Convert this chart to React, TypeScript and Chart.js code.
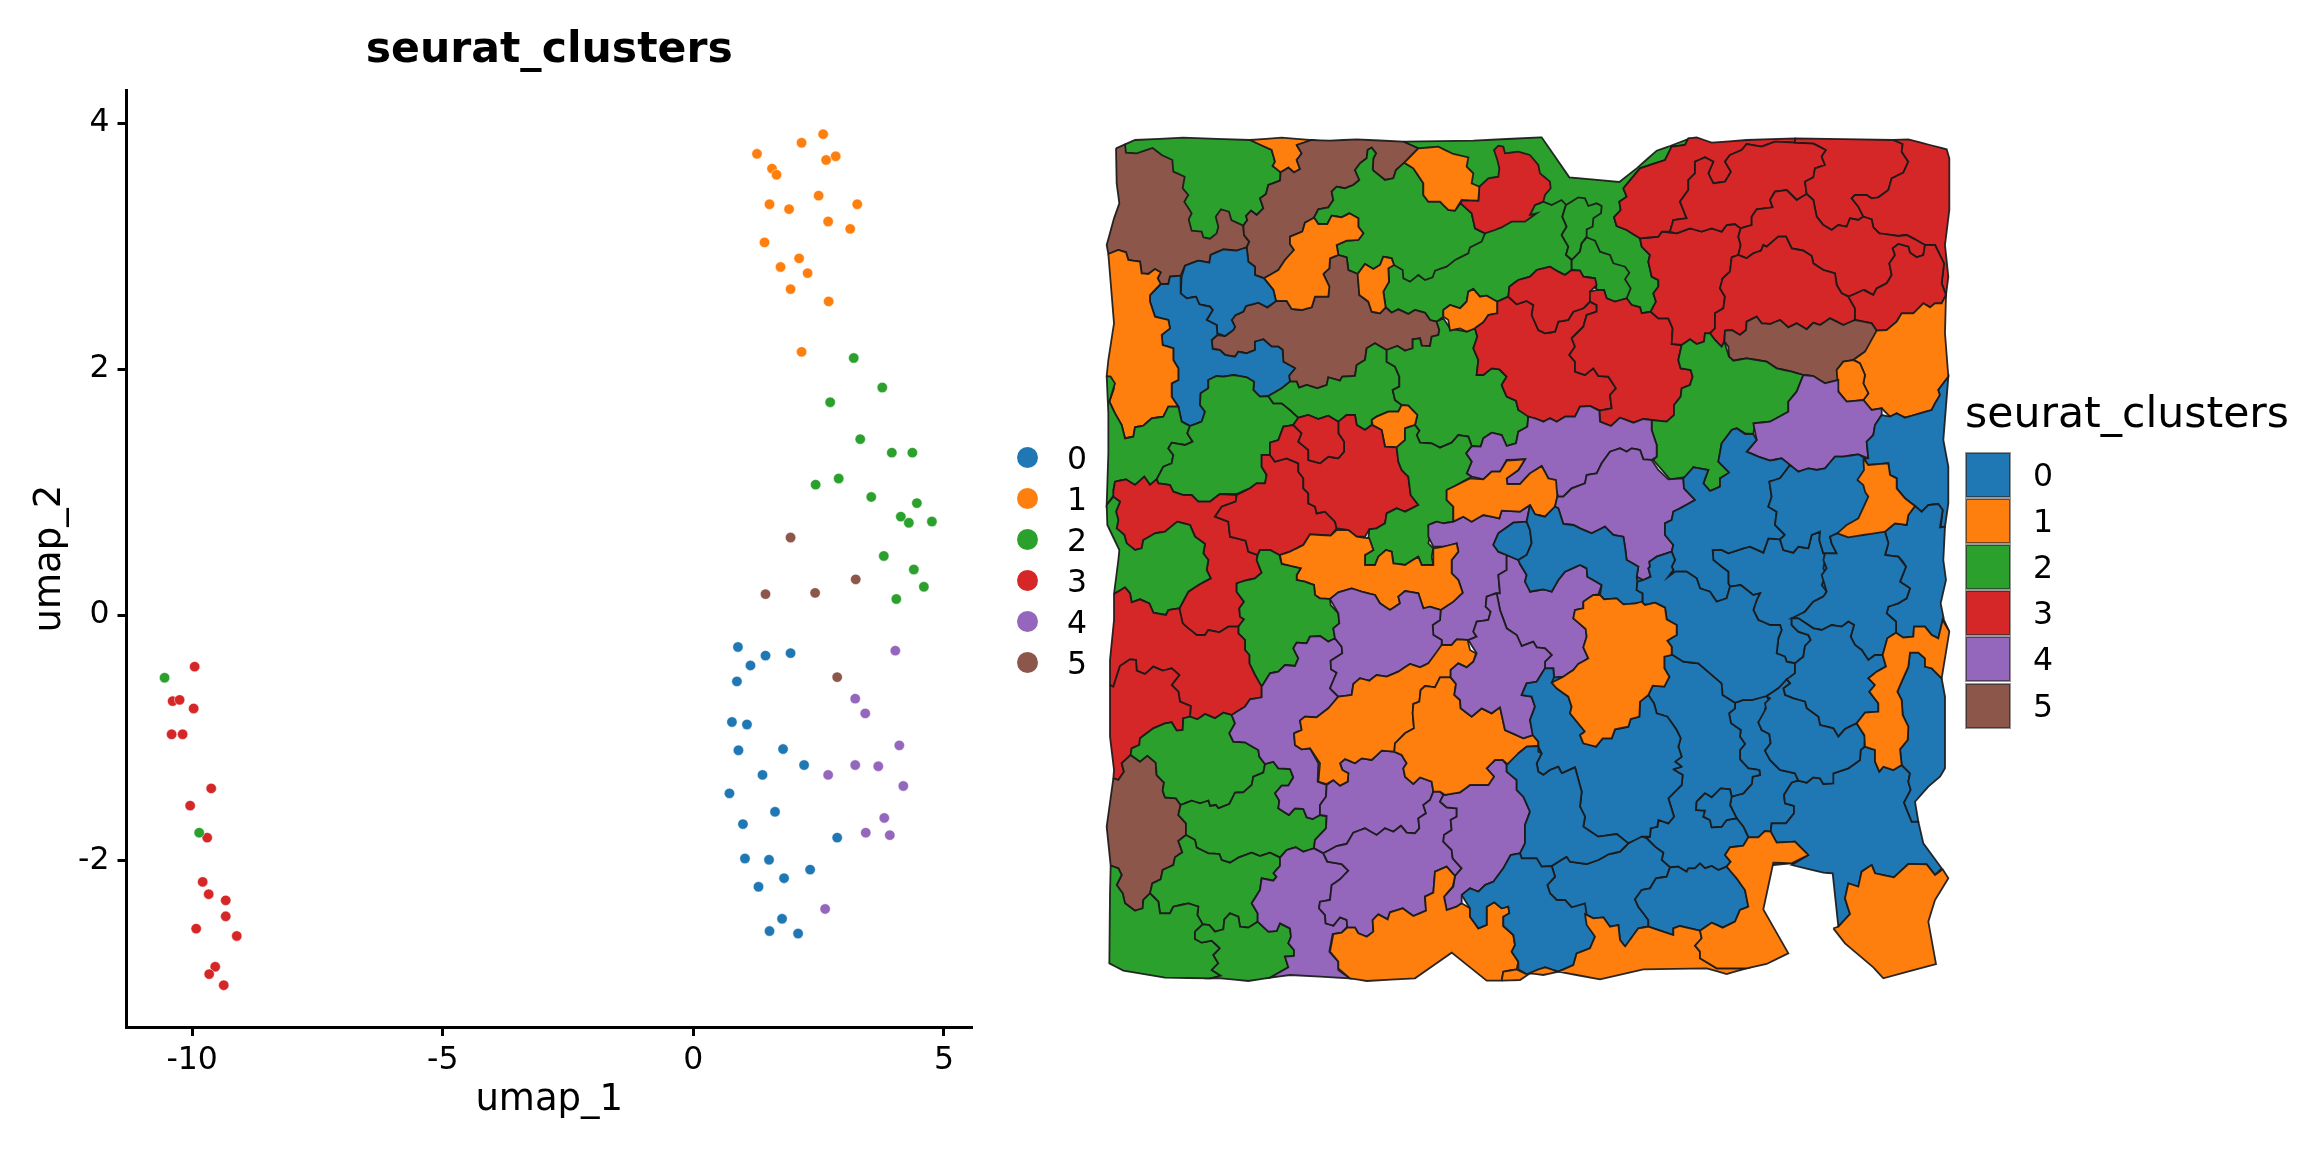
import React, { useEffect, useRef } from "react";
import { Chart, registerables } from "chart.js";
Chart.register(...registerables);

const FONT = "'DejaVu Sans'";
const clusterNames = ["0", "1", "2", "3", "4", "5"];
const clusterColors = ["#1f77b4", "#ff7f0e", "#2ca02c", "#d62728", "#9467bd", "#8c564b"];
const xTicks = [-10, -5, 0, 5];
const yTicks = [-2, 0, 2, 4];

const umap0 = [[0.89,-0.26],[1.44,-0.33],[1.94,-0.31],[1.14,-0.41],[0.87,-0.54],[0.77,-0.87],[1.07,-0.89],[0.9,-1.1],[1.79,-1.09],[2.21,-1.22],[1.38,-1.3],[0.72,-1.45],[1.63,-1.6],[0.99,-1.7],[2.87,-1.81],[1.03,-1.98],[1.51,-1.99],[2.33,-2.07],[1.81,-2.14],[1.3,-2.21],[1.77,-2.47],[1.52,-2.57],[2.09,-2.59]];
const umap1 = [[2.59,3.91],[2.16,3.84],[1.27,3.75],[2.84,3.73],[2.65,3.7],[1.57,3.63],[1.66,3.58],[2.5,3.41],[1.52,3.34],[3.27,3.34],[1.91,3.3],[2.69,3.2],[3.13,3.14],[1.42,3.03],[2.11,2.9],[1.74,2.83],[2.28,2.78],[1.94,2.65],[2.7,2.55],[2.16,2.14]];
const umap2 = [[3.2,2.09],[3.77,1.85],[2.73,1.73],[3.33,1.43],[3.96,1.32],[4.37,1.32],[2.9,1.11],[2.44,1.06],[3.55,0.96],[4.46,0.91],[4.14,0.8],[4.3,0.75],[4.76,0.76],[3.8,0.48],[4.4,0.37],[4.6,0.23],[4.05,0.13],[-10.55,-0.51],[-9.86,-1.77]];
const umap3 = [[-9.95,-0.42],[-10.39,-0.7],[-10.25,-0.69],[-9.97,-0.76],[-10.41,-0.97],[-10.19,-0.97],[-9.62,-1.41],[-10.04,-1.55],[-9.7,-1.81],[-9.79,-2.17],[-9.67,-2.27],[-9.33,-2.32],[-9.33,-2.45],[-9.92,-2.55],[-9.11,-2.61],[-9.54,-2.86],[-9.66,-2.92],[-9.37,-3.01]];
const umap4 = [[4.03,-0.29],[3.23,-0.68],[3.43,-0.8],[4.11,-1.06],[3.23,-1.22],[3.69,-1.23],[2.69,-1.3],[4.19,-1.39],[3.81,-1.65],[3.44,-1.77],[3.92,-1.79],[2.63,-2.39]];
const umap5 = [[1.94,0.63],[3.24,0.29],[2.43,0.18],[1.44,0.17],[2.87,-0.505]];
const umapSeries = [umap0, umap1, umap2, umap3, umap4, umap5];

// Spatial map regions: flat x,y lists in map units.
const BlueBase = [1300,1200,2300,1050,2500,1300,2500,1900,2400,2200,1400,2300,1300,1900];
const G3 = [940,65,1150,62,1350,52,1355,52,1438,172,1588,186,1640,145,1700,92,1740,78,1795,57,1785,75,1745,80,1725,120,1650,145,1600,205,1610,230,1588,245,1592,270,1572,292,1580,318,1610,330,1650,355,1655,380,1680,405,1675,425,1685,470,1705,480,1705,500,1690,520,1698,545,1682,575,1655,580,1650,562,1625,555,1610,535,1575,545,1550,535,1542,510,1500,500,1300,450,1100,300,985,85];
const G2 = [1335,255,1360,245,1385,255,1415,240,1428,255,1417,290,1430,320,1415,345,1435,380,1428,405,1445,420,1445,450,1425,465,1405,455,1380,440,1340,450,1320,470,1285,480,1258,500,1255,530,1222,545,1190,527,1170,530,1150,507,1135,515,1130,545,1110,565,1080,555,1060,570,1060,590,1040,605,1020,600,1005,578,975,570,955,582,925,568,905,578,887,562,880,515,897,485,895,445,1100,300,1250,280];
const Gmid = [108,255,145,232,165,235,175,258,200,250,215,258,213,280,190,295,188,320,170,328,170,350,155,370,150,395,127,420,108,405,115,380,95,345,110,320,97,290];
const Glow = [170,352,195,362,210,395,240,405,250,430,285,440,298,458,285,478,302,505,290,535,255,545,230,535,222,510,200,510,195,475,160,470,150,452,125,450,125,420,150,395,155,370];
const GreenTop = [105,73,135,60,280,53,480,60,545,90,555,125,548,138,572,157,570,182,535,195,528,222,510,235,520,265,500,285,483,272,468,288,472,300,460,317,400,365,300,365,200,200,105,100];
const BrownTL = [78,85,105,73,108,98,140,100,188,84,215,105,247,120,250,155,284,170,278,205,295,225,283,245,305,280,296,298,305,332,335,335,340,352,360,356,380,340,385,320,377,290,393,268,417,275,424,300,460,317,462,345,478,365,470,382,440,392,400,388,362,405,358,428,325,422,285,437,272,467,240,470,235,492,212,492,203,475,212,457,195,447,175,462,155,460,150,425,115,420,108,397,85,390,55,402,50,375,72,295,88,250,80,190];
const OrangeTop = [480,60,575,53,665,60,620,75,635,100,620,120,630,147,612,157,595,143,572,157,548,138,555,125,545,90];
const BrownTop = [620,75,665,60,720,62,800,58,940,65,985,85,943,128,918,150,910,175,885,180,860,160,848,150,850,115,858,100,845,83,833,90,830,115,810,130,795,150,808,180,790,195,765,205,740,200,725,215,730,240,715,262,685,268,672,293,645,308,637,335,600,350,600,372,612,390,585,420,565,450,522,475,495,465,495,440,475,425,470,382,478,365,462,345,460,317,472,300,468,288,483,272,500,285,520,265,510,235,528,222,535,195,570,182,572,157,595,143,612,157,630,147,620,120,635,100];
const G1 = [848,150,885,180,910,175,918,150,943,128,970,145,1000,190,1000,225,1015,245,1050,245,1075,270,1095,272,1112,250,1145,280,1155,325,1185,340,1175,365,1140,382,1135,400,1095,420,1070,440,1035,452,1028,472,1005,480,985,465,960,485,940,475,938,450,912,435,905,415,880,410,870,435,850,447,825,432,803,462,775,450,770,412,745,405,740,375,770,362,805,360,820,340,805,320,805,295,778,280,755,292,725,287,712,312,685,312,672,293,685,268,715,262,730,240,725,215,740,200,765,205,790,195,808,180,795,150,810,130,830,115,833,90,845,83,858,100,850,115];
const R1 = [1320,105,1345,135,1350,160,1380,185,1382,205,1365,225,1360,245,1335,255,1320,285,1340,280,1305,305,1265,305,1235,322,1215,330,1185,340,1155,325,1145,280,1112,250,1115,240,1165,242,1168,200,1195,175,1225,170,1228,145,1222,120,1212,90,1225,77,1240,80,1245,100,1285,95];
const OrangeF = [943,128,985,85,1045,80,1090,102,1135,112,1130,140,1150,160,1145,190,1168,200,1165,242,1115,240,1095,272,1075,270,1050,245,1015,245,1000,225,1000,190,970,145];
const BrownMid = [745,405,770,412,775,450,803,462,808,525,835,545,845,575,870,580,887,562,905,578,925,568,955,582,975,570,1005,578,1020,600,1040,605,1048,630,1045,645,1025,650,1020,678,995,677,990,655,968,658,968,685,945,692,922,678,890,690,855,670,830,685,825,720,800,735,795,768,757,770,750,782,715,772,710,795,682,805,650,795,627,803,620,785,600,785,597,767,615,745,580,725,578,690,565,680,545,680,520,658,495,665,495,690,470,700,445,695,435,710,405,705,390,690,368,687,365,660,382,645,405,648,430,630,435,620,425,600,437,585,460,575,468,558,505,548,532,562,558,543,590,543,605,567,635,570,665,562,675,530,715,530,718,500,700,462,718,445,720,415];
const OrangeC1 = [672,293,685,312,712,312,725,287,755,292,778,280,805,295,805,320,820,340,805,360,770,362,740,375,745,405,720,415,718,445,700,462,718,500,715,530,675,530,665,562,635,570,605,567,590,543,558,543,550,510,522,475,565,450,585,420,612,390,600,372,600,350,637,335,645,308];
const OrangeC2 = [803,462,825,432,850,447,870,435,880,410,905,415,912,435,895,445,897,485,880,515,887,562,870,580,845,575,835,545,808,525];
const BlueA = [275,470,285,437,325,422,358,428,362,405,400,388,440,392,470,382,475,425,495,440,495,465,522,475,550,510,558,543,532,562,505,548,468,558,460,575,437,585,425,600,435,620,430,630,405,648,382,640,380,615,350,600,368,570,360,560,328,553,318,530,290,535,272,520];
const BlueB = [272,467,272,520,290,535,318,530,328,553,360,560,368,570,350,600,380,615,382,645,365,660,368,687,390,690,405,705,435,710,445,695,470,700,495,690,495,665,520,658,545,680,565,680,578,690,580,725,615,745,597,767,600,785,575,805,535,828,510,830,490,810,492,785,470,772,430,765,400,770,380,768,355,780,355,805,332,820,330,855,345,875,335,905,300,918,275,905,265,860,245,830,245,790,265,780,265,745,250,720,250,685,218,675,215,645,240,625,235,600,195,590,180,545,180,525,212,492,235,492,240,470];
const OrangeLeft = [55,402,85,390,108,397,115,420,150,425,155,460,175,462,195,447,212,457,203,475,212,492,180,525,180,545,195,590,235,600,240,625,215,645,218,675,250,685,250,720,265,745,265,780,245,790,245,830,265,860,235,860,220,890,185,895,160,917,135,922,130,950,105,955,95,915,75,880,58,845,72,805,50,768,55,720,72,610];
const G6 = [50,768,62,770,75,790,58,845,75,880,95,915,105,955,130,950,135,922,160,917,185,895,220,890,235,860,265,860,275,905,300,918,292,940,308,965,285,975,245,968,235,985,250,1005,245,1030,220,1040,200,1078,180,1095,163,1070,135,1095,108,1078,75,1085,70,1110,72,1125,50,1155,55,1000,55,880];
const G7 = [300,918,335,905,345,875,330,855,332,820,355,805,355,780,380,768,400,770,430,765,470,772,492,785,490,810,510,830,535,828,550,850,575,850,600,870,625,893,610,915,580,920,565,960,540,968,540,1005,515,1005,515,1040,530,1065,525,1090,500,1090,480,1105,440,1122,390,1122,360,1145,325,1145,305,1125,280,1125,250,1115,240,1095,205,1090,200,1078,220,1040,245,1030,250,1005,235,985,245,968,285,975,308,965,292,940];
const G8 = [535,828,575,805,600,785,620,785,627,803,650,795,682,805,710,795,715,772,750,782,757,770,795,768,800,735,825,720,830,685,855,670,890,690,890,725,915,740,928,770,928,800,908,810,915,840,935,855,925,875,895,875,860,890,845,900,845,915,825,930,800,915,795,885,770,885,745,905,715,887,685,897,655,885,625,893,600,870,575,850,550,850];
const OrangeD = [845,900,860,890,895,875,925,875,935,855,955,857,982,885,975,915,945,925,945,960,920,982,885,980,875,930,848,915];
const G9 = [890,690,922,678,945,692,968,685,968,658,990,655,995,677,1020,678,1025,650,1045,645,1048,630,1040,605,1060,595,1080,625,1130,635,1155,625,1162,650,1150,685,1165,720,1160,765,1180,765,1205,745,1228,748,1250,770,1235,795,1250,830,1278,842,1285,870,1315,880,1312,920,1285,935,1278,970,1250,978,1235,945,1205,938,1180,955,1172,980,1145,978,1135,950,1105,945,1085,968,1050,983,1025,970,990,968,980,945,988,932,975,915,982,885,955,857,935,855,915,840,908,810,928,800,928,770,915,740,890,725];
const OrangeE = [1060,570,1080,555,1110,565,1130,545,1135,515,1150,507,1170,530,1190,527,1222,545,1222,580,1195,585,1180,607,1155,625,1130,635,1110,625,1080,632,1075,600,1060,590];
const R4 = [1155,625,1180,607,1195,585,1222,580,1222,545,1255,530,1280,553,1310,543,1330,555,1325,585,1345,630,1365,640,1395,635,1405,605,1435,600,1450,575,1480,565,1500,545,1520,555,1520,575,1490,585,1480,620,1445,655,1455,680,1438,705,1455,725,1455,755,1485,765,1510,745,1525,768,1555,770,1578,805,1560,825,1565,865,1530,872,1500,858,1470,860,1455,890,1425,890,1400,905,1380,895,1360,905,1335,895,1315,890,1285,870,1278,842,1250,830,1235,795,1250,770,1228,748,1205,745,1180,765,1160,765,1165,720,1150,685,1162,650];
const R3 = [1255,530,1258,500,1285,480,1320,470,1340,450,1380,440,1405,455,1425,465,1445,450,1470,452,1480,470,1515,475,1520,495,1500,515,1500,545,1480,565,1450,575,1435,600,1405,605,1395,635,1365,640,1345,630,1325,585,1330,555,1310,543,1280,553];
const R6 = [200,510,222,510,230,535,255,545,290,535,305,555,330,562,335,580,362,575,385,595,415,595,428,625,425,672,455,675,445,720,452,745,482,750,488,770,480,795,455,805,452,830,432,855,432,885,410,905,365,900,340,897,310,908,270,893,243,918,210,905,208,872,245,865,240,825,258,805,235,770,205,768,190,745,165,765,135,755,135,725,118,705,135,680,125,655,160,620,170,585,200,575,200,555,180,545,180,515];
const Ra = [330,355,385,350,395,335,440,340,480,325,515,335,545,325,575,335,590,315,615,312,632,325,625,350,632,375,625,405,605,412,600,455,578,475,570,505,585,530,580,565,555,580,555,625,540,640,525,640,522,665,500,672,480,658,455,675,425,672,428,625,415,595,385,595,362,575,378,545,370,520,385,500,385,480,365,470,355,425,360,405,335,380];
const Rb = [280,205,290,230,268,245,272,270,252,292,260,318,290,330,330,355,385,350,395,335,420,335,430,300,470,295,450,245,475,210,475,180,495,160,495,125,525,112,550,125,535,160,550,190,585,185,603,155,585,125,600,105,635,90,650,72,695,80,735,65,795,68,795,55,650,60,545,68,500,52,475,55,465,75,425,80,405,120,330,145];
const Rc = [420,335,430,300,470,295,450,245,475,210,475,180,495,160,495,125,525,112,550,125,535,160,550,190,585,185,603,155,585,125,600,105,635,90,650,72,695,80,735,65,795,68,850,70,888,90,875,110,885,135,855,145,850,172,825,185,830,222,800,240,770,210,735,215,720,240,728,262,680,268,665,290,665,315,632,325,615,312,590,315,575,335,545,325,515,335,480,325,440,340];
const Rd = [795,55,795,68,850,70,888,90,875,110,885,135,855,145,850,172,825,185,830,222,850,240,860,290,880,315,905,330,925,315,950,320,960,295,985,300,1000,290,985,260,965,235,975,225,1010,225,1025,235,1045,232,1075,210,1085,175,1120,158,1135,125,1115,95,1118,72,1090,60];
const Re = [1090,60,1135,58,1200,75,1250,88,1258,115,1258,270,1245,375,1255,470,1248,525,1235,490,1242,430,1215,375,1185,375,1155,358,1130,345,1105,348,1048,340,1030,322,1025,298,1000,290,985,260,965,235,975,225,1010,225,1025,235,1045,232,1075,210,1085,175,1120,158,1135,125,1115,95,1118,72];
const Rf = [632,325,665,315,665,290,680,268,728,262,720,240,735,215,770,210,800,240,830,222,850,240,860,290,880,315,905,330,925,315,950,320,960,295,985,300,1000,290,1025,298,1030,322,1048,340,1105,348,1130,345,1155,358,1185,375,1180,405,1160,412,1140,398,1135,380,1105,372,1088,385,1095,405,1078,430,1085,465,1070,490,1040,505,1030,525,1005,510,960,530,935,520,920,495,915,460,880,450,850,430,845,408,820,392,785,385,768,350,745,350,710,380,700,375,693,392,670,400,650,415,625,405,632,375,625,350];
const Rg = [625,405,650,415,670,400,693,392,700,375,710,380,745,350,768,350,785,385,820,392,845,408,850,430,880,450,915,460,920,495,935,520,955,530,975,565,975,600,940,615,900,595,870,615,850,608,830,628,800,610,775,622,750,600,720,612,695,610,680,590,650,605,648,630,630,645,605,630,585,632,583,665,575,680,555,660,540,640,555,625,555,580,580,565,585,530,570,505,578,475,600,455,605,412];
const Rh = [955,530,1000,510,1030,525,1040,505,1070,490,1085,465,1078,430,1095,405,1088,385,1105,372,1135,380,1140,398,1160,412,1180,405,1185,375,1215,375,1242,430,1235,490,1248,525,1235,550,1215,550,1200,562,1180,550,1150,580,1115,580,1100,605,1070,630,1040,632,1025,610,975,600,975,565];
const BrownRight = [585,632,605,630,630,645,648,630,650,605,680,590,695,610,720,612,750,600,775,622,800,610,830,628,850,608,870,615,900,595,940,615,975,600,1025,610,1040,632,1038,660,1005,695,970,720,940,725,920,750,925,780,885,790,850,768,820,765,785,755,740,745,710,725,650,715,610,722,597,710,595,680,583,665];
const OrangeG = [970,720,1005,695,1040,632,1070,630,1100,605,1115,580,1150,580,1180,550,1200,562,1215,550,1235,550,1248,525,1245,640,1255,770,1225,810,1230,825,1215,850,1205,870,1170,880,1125,893,1100,880,1080,890,1055,865,1025,870,1000,840,1015,820,1000,790,1005,765,990,730];
const OrangeH = [920,750,940,725,970,720,990,730,1005,765,1000,790,1015,820,1000,840,950,845,925,815];
const G10 = [455,675,480,658,500,672,522,665,525,640,540,640,555,660,575,680,583,665,597,710,610,722,650,715,710,725,740,745,785,755,820,765,800,815,775,845,775,875,720,905,675,910,670,942,645,940,620,925,605,930,575,970,565,1025,598,1058,570,1075,570,1100,540,1113,520,1090,535,1050,490,1042,480,1070,440,1075,420,1078,370,1020,380,1010,380,975,365,930,365,900,410,905,432,885,432,855,452,830,455,805,480,795,488,770,482,750,452,745,445,720];
const P1 = [820,765,850,768,885,790,925,780,925,815,950,845,1000,840,1025,870,1055,865,1055,885,1035,915,1030,945,1010,965,1015,1015,985,1003,940,1010,915,1010,885,1045,860,1050,835,1045,805,1055,780,1035,755,1015,720,1022,685,1010,650,995,680,960,670,910,720,905,775,875,775,845,800,815];
const P2 = [1128,1000,1145,978,1172,980,1180,955,1205,938,1235,945,1250,978,1278,970,1285,935,1312,920,1315,890,1335,895,1360,905,1380,895,1400,905,1425,890,1455,890,1470,860,1500,858,1528,872,1530,905,1563,918,1590,893,1630,908,1660,897,1685,900,1685,930,1700,975,1700,1010,1685,1020,1660,1018,1650,990,1625,985,1610,995,1590,985,1560,995,1535,1030,1520,1060,1490,1065,1485,1090,1445,1105,1420,1130,1405,1130,1395,1100,1375,1075,1355,1038,1320,1060,1290,1092,1250,1092,1250,1075,1285,1050,1305,1018,1250,1020,1230,1055,1205,1055,1180,1078,1145,1070,1130,1060,1145,1025];
const OrangeJ = [1070,1110,1095,1098,1140,1075,1180,1078,1205,1055,1230,1055,1250,1022,1305,1018,1285,1050,1250,1075,1252,1092,1290,1092,1320,1060,1355,1038,1375,1075,1398,1080,1402,1130,1395,1160,1365,1190,1335,1183,1320,1155,1290,1175,1235,1172,1228,1195,1180,1185,1145,1205,1120,1190,1090,1205,1090,1160,1070,1140];
const R5 = [70,1115,75,1085,108,1078,135,1095,163,1070,180,1095,200,1078,205,1090,240,1095,250,1115,280,1125,305,1125,325,1145,360,1145,390,1122,440,1125,437,1145,395,1160,375,1190,415,1205,420,1250,467,1262,475,1295,503,1305,500,1320,515,1358,495,1375,465,1382,440,1390,440,1415,462,1445,448,1465,450,1490,462,1498,445,1520,415,1520,388,1537,355,1530,345,1545,320,1545,295,1525,278,1510,268,1465,295,1415,330,1392,362,1375,350,1350,355,1320,340,1300,345,1272,315,1250,300,1215,262,1205,225,1235,195,1240,160,1260,155,1285,135,1290,110,1270,103,1245,80,1225,85,1200,78,1175,90,1145,70,1130];
const G11 = [50,1155,70,1130,90,1145,78,1175,85,1200,80,1225,103,1245,110,1270,135,1290,155,1285,160,1260,195,1240,225,1235,262,1205,300,1215,315,1250,345,1272,340,1300,355,1320,350,1350,362,1375,330,1392,295,1415,268,1465,235,1470,228,1485,190,1478,178,1450,150,1438,125,1447,120,1420,105,1402,72,1422,85,1320,88,1290,52,1215];
const R9 = [440,1125,480,1105,500,1090,525,1090,530,1065,515,1040,515,1005,540,1005,555,1025,590,1015,625,1030,625,1055,640,1075,640,1105,655,1120,655,1150,675,1160,680,1180,705,1175,735,1205,740,1225,722,1247,660,1243,640,1275,620,1285,600,1295,568,1305,540,1290,510,1290,503,1305,475,1295,467,1262,420,1250,415,1205,375,1190,395,1160,437,1145];
const R10 = [540,1005,540,968,565,960,580,920,610,915,635,940,625,965,655,990,655,1020,690,1030,715,1010,745,1015,762,995,762,965,745,940,745,905,770,885,795,885,800,915,825,930,845,915,875,930,885,980,920,982,925,1025,935,1050,955,1070,962,1125,985,1155,945,1175,920,1165,890,1180,885,1210,860,1225,838,1228,825,1250,800,1250,775,1230,740,1225,735,1205,705,1175,680,1180,675,1160,655,1150,655,1120,640,1105,640,1075,625,1055,625,1030,590,1015,555,1025];
const R11 = [610,915,625,893,655,885,685,897,715,887,745,905,745,940,762,965,762,995,745,1015,715,1010,690,1030,655,1020,655,990,625,965,635,940];
const G12 = [920,982,945,960,945,925,975,915,988,932,980,945,990,968,1025,970,1050,983,1085,968,1105,945,1135,950,1145,978,1128,1000,1145,1025,1130,1060,1145,1070,1095,1098,1070,1110,1070,1140,1090,1160,1090,1205,1060,1210,1040,1205,1015,1215,1020,1250,1015,1270,1030,1285,1025,1310,1030,1335,995,1335,985,1310,945,1335,910,1330,905,1295,888,1290,865,1310,855,1335,825,1335,825,1305,850,1290,835,1255,838,1228,860,1225,885,1210,890,1180,920,1165,945,1175,985,1155,962,1125,955,1070,935,1050,925,1025];
const OrangeK = [570,1305,600,1295,620,1285,640,1275,660,1243,722,1247,740,1230,775,1230,800,1250,838,1255,850,1290,825,1305,825,1335,855,1335,865,1310,888,1290,905,1295,910,1330,945,1335,985,1310,995,1335,1030,1335,1030,1285,1060,1280,1100,1270,1105,1295,1085,1320,1085,1360,1105,1380,1118,1418,1090,1445,1052,1470,1020,1460,1000,1465,985,1420,945,1413,925,1430,930,1450,900,1470,870,1450,855,1425,815,1415,785,1405,745,1417,720,1437,690,1435,675,1425,672,1395,645,1385,620,1380,620,1365,632,1345,575,1332];
const G13 = [503,1305,510,1290,540,1290,568,1305,575,1332,632,1345,620,1365,620,1380,645,1385,672,1395,675,1425,690,1435,720,1437,722,1455,745,1480,748,1510,730,1525,735,1555,715,1565,690,1548,660,1550,650,1570,620,1568,610,1585,625,1615,615,1638,585,1635,565,1655,540,1660,515,1700,495,1665,478,1630,478,1605,465,1590,465,1560,445,1540,445,1520,462,1498,450,1490,448,1465,462,1445,440,1415,440,1390,465,1382,495,1375,515,1358,500,1320];
const R12 = [72,102,105,82,120,100,125,127,150,118,178,130,190,158,228,165,235,150,268,145,278,190,295,205,320,225,345,225,355,210,388,217,415,200,445,200,445,220,465,240,465,270,478,285,478,310,495,345,515,380,515,412,480,418,465,440,425,465,400,458,375,475,345,462,322,478,300,470,302,438,270,425,265,395,245,375,268,345,245,325,218,332,190,320,165,342,140,332,138,300,120,298,90,318,70,380,60,375,60,300,72,180];
const R13 = [60,375,70,380,90,318,120,298,138,300,140,332,165,342,190,320,218,332,245,325,268,345,245,375,265,395,270,425,302,438,300,470,280,475,278,510,260,512,245,487,225,490,190,505,150,535,148,555,125,565,122,585,95,610,102,635,85,660,70,655,72,630,60,530];
const BrownLow = [70,655,85,660,102,635,95,610,122,585,150,605,172,587,197,608,200,645,222,668,218,692,225,712,258,715,272,735,265,765,288,790,288,825,265,843,277,877,255,892,250,915,218,930,212,958,187,970,180,1000,160,1020,158,1045,135,1052,105,1030,98,1000,80,975,95,945,85,925,62,917,50,800];
const G14 = [122,585,125,565,148,555,150,535,190,505,225,490,245,487,260,512,278,510,280,475,300,470,322,478,345,462,375,475,400,458,425,465,435,490,418,520,430,545,465,547,505,570,508,590,525,612,520,638,490,650,485,675,460,697,435,698,418,732,385,745,378,735,360,738,355,722,330,730,305,722,272,735,258,715,225,712,218,692,222,668,200,645,197,608,172,587,150,605];
const G15 = [272,735,305,722,330,730,355,722,360,738,378,735,385,745,418,732,435,698,460,697,485,675,490,650,520,638,525,612,550,605,565,625,600,627,610,652,595,677,575,677,555,700,568,722,565,745,597,765,615,745,640,747,650,772,668,777,690,765,710,768,708,805,675,840,672,865,640,875,617,862,590,870,570,893,540,878,510,888,485,878,445,893,420,908,395,900,388,882,355,880,320,863,315,840,288,825,288,790,265,765];
const G16 = [288,825,315,840,320,863,355,880,388,882,395,900,420,908,445,893,485,878,510,888,540,878,570,893,570,918,550,940,560,950,550,962,515,955,510,990,485,1030,503,1060,503,1085,475,1103,450,1100,445,1070,420,1060,403,1078,400,1108,375,1115,358,1095,338,1093,322,1065,325,1040,295,1030,250,1040,240,1060,210,1060,205,1025,180,1000,187,970,212,958,218,930,250,915,255,892,277,877,265,843];
const G17 = [62,917,85,925,95,945,80,975,98,1000,105,1030,135,1052,158,1045,160,1020,180,1000,205,1025,210,1060,240,1060,250,1040,295,1030,325,1040,322,1065,338,1093,315,1115,315,1137,335,1148,365,1142,390,1165,370,1185,385,1210,365,1230,392,1247,362,1255,225,1253,100,1232,58,1210,60,1000];
const G18 = [338,1093,358,1095,375,1115,400,1108,403,1078,420,1060,445,1070,450,1100,475,1103,503,1085,535,1115,560,1113,570,1090,600,1105,603,1130,595,1150,612,1170,612,1188,585,1190,595,1222,540,1253,475,1263,392,1255,362,1255,392,1247,365,1230,385,1210,370,1185,390,1165,365,1142,335,1148,315,1137,315,1115];
const P3 = [515,380,540,340,565,335,585,315,615,318,625,295,610,265,620,248,650,250,660,230,690,228,715,245,735,235,755,260,757,280,722,302,723,328,740,338,720,385,745,410,715,445,680,472,645,470,630,482,635,510,612,520,615,555,635,568,660,565,685,610,683,665,710,675,708,710,690,735,690,765,668,777,650,772,640,747,615,745,597,765,565,745,568,722,555,700,575,677,595,677,610,652,600,627,565,625,550,605,525,612,508,590,505,570,465,547,430,545,418,520,435,490,425,465,465,440,480,418,515,412];
const P4 = [720,117,745,97,785,85,815,95,855,105,870,130,900,150,930,130,925,110,945,93,985,100,1000,145,1020,140,1052,150,1050,180,1028,195,1030,225,1055,240,1055,265,1015,310,990,322,960,312,925,335,890,350,860,345,838,362,810,355,790,372,785,405,745,410,720,385,740,338,723,328,722,302,757,280,755,260,735,235,730,205,748,190,745,160];
const OrangeL = [612,520,635,510,630,482,645,470,680,472,715,445,745,410,785,405,790,372,810,355,838,362,860,345,890,350,925,335,960,312,990,322,1015,310,1055,255,1085,255,1100,238,1133,240,1140,270,1158,280,1150,305,1130,322,1105,310,1082,330,1082,352,1050,352,1035,382,1005,378,992,390,988,425,970,432,968,460,972,505,945,520,915,550,913,575,875,572,845,600,815,595,795,610,765,597,750,610,757,630,775,640,773,665,750,677,730,660,710,672,685,665,690,610,660,565,635,568,615,555];
const OrangeM = [913,575,915,550,945,520,972,505,968,460,970,432,988,425,992,390,1005,378,1035,382,1050,352,1082,352,1098,372,1093,405,1110,420,1112,445,1145,470,1175,445,1205,460,1230,442,1245,510,1300,535,1330,525,1345,545,1345,558,1310,560,1285,580,1290,600,1255,615,1238,600,1215,600,1190,625,1212,650,1195,675,1140,675,1110,697,1065,705,1050,695,1030,695,1025,665,990,652,970,672,945,650,940,625,950,610,935,585];
const P5 = [710,675,730,660,750,677,773,665,775,640,757,630,750,610,765,597,795,610,815,595,845,600,875,572,913,575,935,585,950,610,940,625,945,650,970,672,990,652,1025,665,1030,695,1020,720,1000,735,1008,760,985,775,988,805,975,820,950,818,933,797,910,815,885,805,860,825,825,805,790,818,770,852,740,858,700,880,672,865,675,840,708,805,710,768,690,765,690,735,708,710];
const P6 = [570,893,590,870,617,862,640,875,672,865,700,880,712,905,755,912,775,932,750,958,725,975,720,1020,690,1025,687,1045,705,1065,707,1090,730,1097,750,1072,770,1080,772,1100,755,1118,728,1122,718,1175,745,1205,745,1230,780,1255,600,1245,540,1253,595,1222,585,1190,612,1188,612,1170,595,1150,603,1130,600,1105,570,1090,560,1113,535,1115,503,1085,503,1060,485,1030,510,990,515,955,550,962,560,950,550,940,570,918];
const P7 = [700,880,740,858,770,852,790,818,825,805,860,825,885,805,910,815,933,797,950,818,975,820,988,805,985,775,1008,760,1000,735,1020,720,1030,695,1050,695,1060,705,1050,725,1070,742,1100,745,1100,770,1082,780,1085,810,1062,825,1060,845,1085,870,1088,895,1115,925,1095,948,1070,920,1035,935,1030,998,1005,1010,1008,1052,970,1068,938,1045,900,1057,893,1078,865,1063,848,1080,850,1115,830,1130,805,1120,795,1103,772,1103,770,1080,750,1072,730,1097,707,1090,705,1065,687,1045,690,1025,720,1020,725,975,750,958,775,932,755,912,712,905];
const P8 = [1050,725,1060,705,1110,697,1140,675,1195,675,1212,650,1190,625,1215,600,1238,600,1250,615,1250,635,1280,660,1280,690,1300,710,1320,755,1305,795,1305,850,1290,880,1262,885,1240,925,1210,965,1185,975,1165,995,1140,985,1115,1005,1115,1030,1100,1040,1070,1050,1062,1010,1090,980,1095,948,1115,925,1088,895,1085,870,1060,845,1062,825,1085,810,1082,780,1100,770,1100,745,1070,742];
const OrangeN = [720,1175,730,1122,755,1118,772,1103,795,1103,805,1120,830,1130,850,1115,848,1080,865,1063,893,1078,900,1057,938,1045,970,1068,1008,1052,1005,1010,1030,998,1035,935,1070,920,1095,948,1088,980,1062,1010,1070,1050,1100,1040,1115,1030,1140,1045,1140,1070,1165,1105,1190,1095,1190,1040,1213,1027,1235,1045,1255,1040,1258,1060,1240,1070,1240,1098,1270,1125,1275,1155,1265,1175,1285,1205,1280,1228,1240,1235,1235,1262,1190,1262,1085,1178,975,1255,830,1263,780,1255,745,1225,745,1205];
const P9 = [1405,1130,1420,1130,1445,1105,1485,1090,1490,1065,1520,1060,1535,1030,1560,995,1590,985,1610,995,1625,985,1650,990,1660,1018,1685,1020,1705,1050,1735,1078,1780,1075,1782,1105,1815,1140,1770,1165,1750,1175,1745,1200,1725,1210,1725,1245,1750,1275,1745,1295,1700,1310,1678,1325,1680,1340,1675,1345,1682,1370,1660,1380,1640,1370,1645,1340,1610,1320,1605,1280,1600,1250,1570,1245,1545,1220,1505,1240,1470,1225,1450,1215,1420,1212,1405,1165,1395,1160,1402,1130];
const P10 = [1015,1215,1040,1205,1060,1210,1090,1205,1120,1190,1145,1205,1180,1185,1228,1195,1235,1172,1290,1175,1320,1155,1315,1180,1310,1205,1270,1208,1225,1240,1210,1275,1225,1295,1250,1305,1250,1350,1225,1365,1230,1420,1215,1420,1190,1430,1187,1460,1202,1475,1195,1500,1160,1505,1150,1535,1160,1550,1135,1560,1100,1558,1085,1575,1055,1575,1055,1560,1030,1545,1028,1515,1050,1500,1052,1470,1090,1445,1118,1418,1105,1380,1085,1360,1085,1320,1105,1295,1100,1270,1065,1280,1030,1280,1015,1250];
const P15 = [1250,1305,1285,1320,1290,1332,1310,1365,1305,1385,1320,1410,1320,1415,1360,1408,1385,1415,1405,1380,1425,1355,1470,1335,1490,1345,1492,1370,1535,1395,1525,1423,1510,1425,1480,1445,1480,1465,1455,1470,1450,1495,1487,1527,1490,1550,1480,1582,1495,1615,1465,1632,1450,1650,1420,1670,1392,1672,1390,1645,1365,1645,1365,1625,1385,1605,1365,1585,1340,1582,1330,1565,1295,1578,1280,1545,1250,1525,1230,1470,1220,1420,1230,1420,1225,1365,1250,1350];
const P16 = [1135,1560,1160,1550,1150,1535,1160,1505,1195,1500,1202,1475,1187,1460,1190,1430,1220,1420,1230,1470,1250,1525,1280,1545,1295,1578,1330,1565,1340,1582,1365,1585,1385,1605,1365,1625,1365,1645,1340,1685,1320,1692,1310,1690,1295,1725,1325,1730,1335,1760,1320,1800,1330,1845,1300,1855,1245,1830,1230,1762,1205,1780,1175,1765,1145,1790,1112,1765,1110,1740,1093,1725,1098,1692,1082,1672,1082,1650,1105,1630,1130,1642,1150,1625,1160,1600];
const B7 = [1225,1240,1270,1208,1310,1205,1320,1230,1325,1270,1310,1305,1285,1320,1250,1305,1225,1295,1210,1275];
const BQ4e = [615,428,640,420,665,420,710,408,720,430,705,445,708,465,685,487,695,510,718,522,722,550,705,572,720,600,750,630,795,640,805,662,785,668,762,705,765,730,792,738,792,760,768,790,725,790,722,815,705,813,685,832,655,832,640,800,620,775,600,735,605,710,640,700,665,672,668,650,690,645,688,630,655,625,630,598,630,570,645,552,630,530,632,510,603,490,597,460,615,445];
const BQ4f = [805,662,830,668,850,652,870,655,880,672,905,670,910,640,955,625,990,600,992,570,1005,560,1035,570,1035,605,1048,635,1060,620,1090,630,1115,615,1140,640,1135,665,1142,690,1122,728,1145,785,1165,785,1180,850,1235,925,1215,945,1190,913,1135,912,1092,952,1035,940,1025,915,995,935,985,980,955,970,945,1015,960,1062,925,1100,908,940,880,938,785,915,835,885,795,845,740,848,722,815,725,790,768,790,792,760,792,738,765,730,762,705,785,668];
const BQ4g = [1115,615,1110,568,1133,540,1135,500,1118,465,1115,420,1102,395,1115,365,1135,320,1140,278,1165,278,1185,295,1185,320,1205,325,1235,355,1245,410,1245,625,1230,650,1195,680,1155,725,1165,785,1145,785,1122,728,1142,690,1135,665,1140,640];
const BQ2e = [1055,885,1080,890,1100,880,1125,893,1170,880,1205,870,1215,850,1230,825,1225,810,1255,770,1240,960,1255,1040,1255,1150,1245,1220,1232,1222,1238,1170,1225,1152,1195,1155,1175,1175,1155,1158,1125,1135,1100,1105,1100,1075,1080,1065,1075,1030,1015,1035,1000,1015,1015,1015,1010,965,1030,945,1035,915];
const BQ2f = [1155,1158,1175,1175,1195,1155,1225,1152,1238,1170,1230,1222,1245,1220,1240,1320,1248,1380,1232,1450,1242,1500,1258,1535,1238,1500,1225,1555,1205,1545,1185,1520,1152,1520,1150,1550,1120,1553,1098,1538,1098,1505,1070,1480,1075,1460,1105,1450,1130,1435,1140,1405,1110,1385,1128,1340,1115,1320,1105,1310,1065,1305,1075,1270,1065,1235,1095,1210,1130,1215,1135,1185];
const BQ2g = [548,1290,575,1290,595,1300,640,1285,660,1280,700,1298,715,1255,750,1258,760,1290,790,1298,805,1280,835,1285,845,1245,870,1235,868,1260,880,1300,905,1300,885,1320,880,1345,890,1365,875,1395,890,1415,880,1430,850,1445,825,1475,805,1495,785,1495,785,1515,805,1535,835,1545,842,1560,825,1578,820,1610,795,1630,770,1625,765,1610,740,1600,745,1555,755,1530,750,1515,720,1515,685,1500,670,1470,680,1440,690,1420,670,1425,632,1395,600,1400,595,1390,595,1355,575,1340,550,1320];
const Island = [500,725,525,700,545,712,572,685,600,688,605,710,600,735,620,775,590,780,575,800,545,802,540,780,520,770,525,752,498,750];
const BQ4h = [425,283,460,305,505,310,575,370,578,405,615,428,615,445,597,460,603,490,632,510,630,530,645,552,630,570,630,598,655,625,688,630,690,645,668,650,665,672,640,700,605,710,600,688,572,685,545,712,525,700,500,725,498,750,525,752,520,770,540,780,545,802,575,800,590,780,620,775,640,800,655,832,640,857,600,862,585,885,602,905,590,920,565,930,545,918,525,925,510,910,495,925,475,925,470,935,445,920,420,922,395,900,400,878,375,860,350,835,360,830,362,805,382,800,385,780,415,790,432,770,415,715,455,675,458,645,430,628,455,620,435,605,455,590,445,560,452,535,440,510,412,470,380,460,372,430,355,405,368,377,403,380,418,350,403,325,403,290];
const BQ4i = [1675,1725,1692,1750,1700,1780,1732,1790,1760,1830,1772,1855,1765,1880,1775,1910,1755,1925,1775,1940,1750,1948,1778,1965,1775,1995,1735,2035,1752,2090,1735,2110,1705,2100,1702,2120,1682,2125,1680,2150,1655,2150,1640,2160,1615,2170,1580,2142,1525,2150,1480,2120,1485,2090,1470,2060,1475,2015,1455,1942,1415,1960,1405,1940,1380,1950,1360,1965,1345,1955,1340,1930,1355,1900,1345,1880,1345,1865,1328,1845,1320,1800,1335,1760,1325,1730,1295,1725,1310,1690,1340,1685,1365,1645,1390,1645,1392,1672,1385,1688,1400,1705,1435,1730,1445,1760,1440,1780,1485,1835,1470,1845,1480,1870,1518,1880,1538,1855,1565,1855,1575,1828,1615,1820,1622,1797,1648,1790,1650,1745];
const BQ4j = [295,850,335,830,350,835,375,860,400,878,395,900,420,922,410,950,378,955,360,985,335,990,315,1018,325,1040,355,1080,355,1100,325,1105,285,1160,270,1140,265,1095,240,1100,220,1072,190,1075,165,1062,125,1042,105,1020,80,1020,60,1000,52,975,75,950,65,918,110,890,120,905,170,912,205,900,235,883,270,875];
const BQ4k = [420,922,445,920,470,935,475,925,495,925,510,910,525,925,545,918,565,930,590,920,620,955,645,990,655,1040,630,1050,615,1085,578,1103,545,1088,510,1112,450,1098,430,1105,430,1125,355,1100,355,1080,325,1040,315,1018,335,990,360,985,378,955,410,950];
const B9 = [1250,1935,1285,1900,1310,1880,1345,1878,1345,1895,1355,1900,1340,1930,1345,1955,1360,1965,1380,1950,1405,1940,1415,1960,1455,1942,1475,2015,1470,2060,1485,2090,1480,2120,1525,2150,1580,2142,1615,2170,1590,2195,1555,2203,1525,2220,1490,2232,1440,2225,1430,2210,1385,2238,1355,2240,1340,2215,1295,2215,1290,2200,1305,2170,1305,2115,1320,2075,1300,2030,1280,2010,1280,1980,1250,1955];
const B10 = [1115,2325,1140,2305,1165,2315,1185,2295,1210,2285,1240,2245,1262,2205,1290,2200,1295,2215,1340,2215,1355,2240,1385,2238,1395,2270,1372,2295,1380,2320,1400,2340,1425,2340,1445,2362,1485,2350,1490,2385,1510,2415,1515,2450,1500,2485,1460,2500,1450,2535,1405,2555,1365,2542,1340,2555,1310,2563,1285,2548,1285,2525,1265,2495,1275,2475,1270,2445,1240,2418,1240,2390,1258,2380,1255,2360,1235,2365,1213,2347,1190,2360,1190,2415,1165,2425,1140,2390,1140,2365];
const BQ2a = [1780,1075,1810,1042,1855,1050,1840,1090,1860,1113,1890,1100,1890,1075,1918,1058,1885,1025,1895,970,1925,930,1940,925,1965,942,1990,942,2000,960,1970,995,2005,1010,2040,1022,2075,1015,2100,1035,2070,1075,2038,1085,2045,1130,2035,1160,2060,1175,2055,1215,2085,1245,2070,1258,2035,1255,2020,1298,1980,1280,1960,1285,1915,1300,1895,1290,1868,1290,1870,1320,1895,1340,1915,1355,1915,1390,1920,1400,1910,1435,1880,1445,1860,1415,1830,1405,1820,1375,1790,1355,1755,1355,1735,1370,1750,1350,1745,1340,1755,1320,1745,1295,1750,1275,1725,1245,1725,1210,1745,1200,1750,1175,1770,1165,1815,1140,1782,1105];
const BQ2b = [1395,1160,1405,1165,1420,1212,1450,1215,1470,1225,1505,1240,1545,1220,1570,1245,1600,1250,1605,1280,1610,1320,1645,1340,1640,1370,1642,1385,1640,1410,1658,1420,1658,1448,1638,1450,1600,1453,1580,1435,1542,1438,1530,1425,1535,1395,1492,1370,1490,1345,1470,1335,1425,1355,1405,1380,1385,1415,1360,1408,1320,1415,1305,1385,1310,1365,1290,1332,1285,1320,1310,1305,1325,1270,1320,1230,1310,1205,1315,1180,1320,1155,1335,1183,1365,1190];
const BQ4a = [1642,1385,1660,1380,1682,1370,1675,1345,1680,1340,1678,1325,1700,1310,1745,1295,1755,1320,1745,1340,1750,1350,1735,1370,1755,1355,1790,1355,1820,1375,1830,1405,1860,1415,1880,1445,1910,1435,1920,1400,1952,1395,1990,1425,2010,1420,2000,1440,1990,1470,2005,1500,2040,1515,2070,1515,2075,1530,2065,1555,2060,1600,2085,1610,2090,1625,2115,1630,2115,1660,2095,1678,2065,1705,2030,1728,1985,1740,1960,1740,1935,1748,1898,1725,1895,1690,1825,1630,1780,1625,1745,1603,1745,1580,1732,1562,1760,1545,1760,1515,1730,1498,1725,1463,1695,1448,1665,1455,1658,1448,1658,1420,1640,1410];
const BQ2c = [2100,1035,2125,1055,2155,1045,2180,1050,2205,1045,2235,1010,2260,1010,2305,1003,2325,1015,2340,1100,2320,1222,2242,1240,2220,1250,2225,1270,2240,1300,2200,1300,2188,1260,2190,1235,2165,1245,2155,1285,2125,1280,2110,1298,2080,1290,2070,1258,2085,1245,2055,1215,2060,1175,2035,1160,2045,1130,2038,1085,2070,1075];
const BQ2d = [2200,1300,2240,1300,2225,1270,2220,1250,2242,1240,2275,1232,2320,1222,2385,1235,2395,1270,2385,1305,2425,1310,2448,1340,2430,1385,2460,1405,2450,1435,2425,1450,2395,1460,2390,1480,2418,1505,2418,1538,2392,1555,2378,1605,2355,1605,2335,1620,2315,1590,2295,1575,2282,1550,2292,1515,2275,1505,2255,1520,2225,1515,2195,1530,2170,1525,2125,1495,2105,1495,2145,1475,2170,1445,2200,1430,2210,1415,2195,1365,2210,1345,2200,1320,2205,1300];
const BQ4c = [2115,1630,2140,1610,2145,1578,2162,1560,2155,1545,2125,1535,2105,1515,2105,1495,2125,1495,2170,1525,2195,1530,2225,1515,2255,1520,2275,1505,2292,1515,2282,1550,2295,1575,2315,1590,2335,1620,2355,1605,2378,1605,2388,1640,2360,1655,2335,1675,2355,1695,2338,1715,2365,1750,2365,1775,2325,1778,2300,1810,2265,1827,2245,1850,2230,1825,2190,1815,2185,1790,2150,1765,2145,1745,2110,1735,2085,1725,2080,1705,2100,1690,2090,1678,2115,1660];
const BQ4d = [2030,1728,2065,1705,2090,1678,2100,1690,2080,1705,2085,1725,2110,1735,2145,1745,2150,1765,2185,1790,2190,1815,2230,1825,2245,1850,2265,1827,2300,1810,2325,1850,2323,1880,2312,1890,2310,1920,2275,1945,2230,1960,2230,1990,2200,1992,2190,1975,2170,1972,2150,1988,2125,1982,2115,1960,2070,1950,2040,1920,2025,1892,2042,1870,2038,1842,2015,1830,2005,1807,2028,1765,2025,1750,2040,1735];
const OrangeP = [160,125,190,105,210,105,222,118,260,115,280,133,318,130,335,125,345,135,375,128,405,143,410,178,440,195,440,225,412,242,425,260,425,285,403,290,403,325,418,350,403,380,368,377,355,405,330,425,328,470,302,477,295,500,255,508,245,535,218,535,198,560,160,550,150,525,165,515,120,460,125,440,115,410,80,385,65,368,100,350,130,330,145,312,175,295,160,262,170,230,167,207,130,175,135,150,160,145];
const OrangeQ = [85,1235,130,1215,140,1180,180,1165,195,1130,170,1095,165,1062,190,1075,220,1072,240,1100,265,1095,270,1140,285,1160,325,1105,355,1100,430,1125,430,1105,450,1098,510,1112,515,1135,495,1157,510,1175,510,1195,560,1225,650,1225,590,1242,530,1225,340,1228,210,1258];
const OrangeR = [-85,1262,-80,1235,-40,1228,-10,1243,25,1228,45,1222,85,1235,40,1245,0,1240,-30,1260];
const OrangeS = [510,1112,545,1088,578,1103,615,1085,630,1050,655,1040,645,990,620,955,590,920,602,905,585,885,600,862,640,857,655,832,685,832,705,813,722,815,740,848,795,845,835,885,785,910,730,908,700,1048,775,1180,710,1212,650,1225,560,1225,510,1195,510,1175,495,1157,515,1135];
const OrangeT = [910,1105,925,1100,960,1062,945,1015,955,970,985,980,995,935,1025,915,1035,940,1092,952,1135,912,1190,913,1215,945,1238,928,1255,955,1215,1020,1195,1085,1218,1212,1060,1255,1030,1222,945,1150];
const OrangeU = [1000,1015,1015,1035,1075,1030,1080,1065,1100,1075,1100,1105,1125,1135,1155,1158,1135,1185,1130,1215,1095,1210,1065,1235,1000,1245,955,1252,922,1240,950,1215,985,1195,1015,1130,1005,1115,1000,1095,982,1080,1002,1050];
const OrangeV = [1098,218,1120,233,1150,230,1152,200,1185,200,1205,225,1225,235,1238,180,1258,215,1235,355,1205,325,1185,320,1185,295,1165,278,1140,278,1135,320,1115,365,1102,395,1115,420,1118,465,1135,500,1133,540,1110,568,1115,615,1090,630,1060,620,1048,635,1035,605,1035,570,1005,560,1003,525,980,490,1005,458,1045,455,1045,430,1018,395,1035,375,1015,355,1040,335,1068,320,1058,285,1072,235];

const Q2 = [1320, 0];
const Q3 = [0, 1320];
const Q4 = [1320, 1320];
const Q1 = [0, 0];
// cluster, quadrant offset, outline — later entries paint over earlier ones
const mapRegions: [number, number[], number[]][] = [
  [0,Q1,BlueBase],
  [2,Q1,G3],[2,Q1,G2],[2,Q2,Gmid],[2,Q2,Glow],[2,Q1,GreenTop],[5,Q1,BrownTL],[1,Q1,OrangeTop],[5,Q1,BrownTop],[2,Q1,G1],[3,Q1,R1],[1,Q1,OrangeF],
  [5,Q1,BrownMid],[1,Q1,OrangeC1],[1,Q1,OrangeC2],[0,Q1,BlueA],[0,Q1,BlueB],[1,Q1,OrangeLeft],[2,Q1,G6],[2,Q1,G7],[2,Q1,G8],[2,Q1,G9],[1,Q1,OrangeD],[1,Q1,OrangeE],
  [3,Q1,R4],[3,Q1,R3],[3,Q2,R6],[3,Q2,Ra],[3,Q2,Rb],[3,Q2,Rc],[3,Q2,Rd],[3,Q2,Re],[3,Q2,Rf],[3,Q2,Rg],[3,Q2,Rh],[5,Q2,BrownRight],[1,Q2,OrangeG],[1,Q2,OrangeH],[2,Q2,G10],[4,Q2,P1],
  [4,Q1,P2],[3,Q1,R5],[2,Q1,G11],[3,Q1,R9],[3,Q1,R10],[3,Q1,R11],[2,Q1,G12],[4,Q1,P10],[1,Q1,OrangeJ],[1,Q1,OrangeK],[2,Q1,G13],
  [3,Q3,R12],[3,Q3,R13],[5,Q3,BrownLow],[2,Q3,G14],[2,Q3,G15],[2,Q3,G16],[2,Q3,G17],[2,Q3,G18],[4,Q3,P3],[4,Q3,P4],[4,Q3,P5],[4,Q3,P6],[4,Q3,P7],[4,Q3,P8],[1,Q3,OrangeL],[1,Q3,OrangeM],[1,Q3,OrangeN],
  [4,Q1,P9],[4,Q1,P15],[4,Q1,P16],[0,Q1,B7],
  [0,Q4,BQ4e],[0,Q4,BQ4f],[0,Q4,BQ4g],[0,Q2,BQ2e],[0,Q2,BQ2f],[0,Q2,BQ2g],[0,Q4,BQ4h],[0,Q4,Island],[0,Q1,BQ4i],[0,Q4,BQ4j],[0,Q4,BQ4k],[0,Q1,B9],[0,Q1,B10],
  [0,Q1,BQ2a],[0,Q1,BQ2b],[0,Q1,BQ4a],[0,Q1,BQ2c],[0,Q1,BQ2d],[0,Q1,BQ4c],[0,Q1,BQ4d],
  [1,Q4,OrangeP],[1,Q4,OrangeQ],[1,Q4,OrangeR],[1,Q4,OrangeS],[1,Q4,OrangeT],[1,Q2,OrangeU],[1,Q4,OrangeV],
];

function toPoints(offset: number[], flat: number[]) {
  const pts: { x: number; y: number }[] = [];
  for (let i = 0; i < flat.length; i += 2) pts.push({ x: flat[i] + offset[0], y: flat[i + 1] + offset[1] });
  pts.push(pts[0]);
  return pts;
}

export default function App() {
  const leftRef = useRef<HTMLCanvasElement>(null);
  const rightRef = useRef<HTMLCanvasElement>(null);

  useEffect(() => {
    const tickFont = { family: FONT, size: 31.5 };
    const axisCommon = {
      border: { display: true, width: 3, color: "#000" },
      grid: { drawOnChartArea: false, drawTicks: true, tickLength: 9, tickWidth: 3, tickColor: "#000" },
    };
    const left = new Chart(leftRef.current!, {
      type: "scatter",
      data: {
        datasets: umapSeries.map((s, i) => ({
          label: clusterNames[i],
          data: s.map(([x, y]) => ({ x, y })),
          backgroundColor: clusterColors[i],
          borderColor: "#ffffff",
          borderWidth: 0.5,
          pointRadius: 5.2,
        })),
      },
      options: {
        responsive: false,
        animation: false,
        layout: { padding: { right: 126, top: 0, left: 0, bottom: 0 } },
        plugins: {
          legend: { display: false },
          tooltip: { enabled: false },
          title: {
            display: true,
            text: "seurat_clusters",
            fullSize: false,
            color: "#000",
            font: { family: FONT, size: 42.6, weight: "bold", lineHeight: 1.2 },
            padding: { top: 25, bottom: 14 },
          },
        },
        scales: {
          x: {
            type: "linear",
            min: -11.31,
            max: 5.56,
            ...axisCommon,
            afterBuildTicks: (s: any) => { s.ticks = xTicks.map((value) => ({ value })); },
            afterFit: (s: any) => { s.height = 125; },
            ticks: { font: tickFont, color: "#000", padding: 6, maxRotation: 0 },
            title: { display: true, text: "umap_1", color: "#000", font: { family: FONT, size: 37 }, padding: { top: 4, bottom: 29 } },
          },
          y: {
            type: "linear",
            min: -3.35,
            max: 4.268,
            ...axisCommon,
            afterBuildTicks: (s: any) => { s.ticks = yTicks.map((value) => ({ value })); },
            afterFit: (s: any) => { s.width = 126.5; },
            ticks: { font: tickFont, color: "#000", padding: 8 },
            title: { display: true, text: "umap_2", color: "#000", font: { family: FONT, size: 37 }, padding: { top: 28, bottom: 4 } },
          },
        },
      },
    } as any);

    const right = new Chart(rightRef.current!, {
      type: "scatter",
      data: {
        // Chart.js paints the first dataset last, hence the reverse.
        datasets: mapRegions.slice().reverse().map(([c, off, flat]) => ({
          label: clusterNames[c],
          data: toPoints(off, flat),
          showLine: true,
          fill: "shape",
          tension: 0.0001,
          pointRadius: 0,
          backgroundColor: clusterColors[c],
          borderColor: "rgba(25,25,25,0.92)",
          borderWidth: 1.8,
          borderJoinStyle: "miter",
          clip: false,
        })),
      },
      options: {
        responsive: false,
        animation: false,
        layout: { padding: 0 },
        plugins: { legend: { display: false }, tooltip: { enabled: false }, title: { display: false } },
        scales: {
          x: { type: "linear", min: 0, max: 2700, display: false },
          y: { type: "linear", min: 0, max: 2640, reverse: true, display: false },
        },
      },
    } as any);

    return () => {
      left.destroy();
      right.destroy();
    };
  }, []);

  return (
    <div style={{ position: "absolute", left: 0, top: 0, width: 2304, height: 1152, background: "#fff", overflow: "hidden", fontFamily: FONT, color: "#000" }}>
      <canvas ref={leftRef} width={1098} height={1152} style={{ position: "absolute", left: 0, top: 0 }} />
      <canvas ref={rightRef} width={900} height={880} style={{ position: "absolute", left: 1090, top: 120 }} />
      {clusterNames.map((n, i) => (
        <React.Fragment key={"l" + n}>
          <div style={{ position: "absolute", left: 1016.5, top: 446.5 + i * 41 , width: 21, height: 21, borderRadius: "50%", background: clusterColors[i] }} />
          <div style={{ position: "absolute", left: 1067, top: 438 + i * 41, fontSize: 31.5, lineHeight: "40px" }}>{n}</div>
        </React.Fragment>
      ))}
      <div style={{ position: "absolute", left: 1965, top: 384, fontSize: 42.6, lineHeight: "56px", whiteSpace: "nowrap" }}>seurat_clusters</div>
      {clusterNames.map((n, i) => (
        <React.Fragment key={"r" + n}>
          <div style={{ position: "absolute", left: 1966, top: 453 + i * 46.1, width: 44, height: 44, boxSizing: "border-box", background: clusterColors[i], border: "1.5px solid rgba(40,40,40,0.65)", outline: "1px solid #999" }} />
          <div style={{ position: "absolute", left: 2033, top: 455 + i * 46.1, fontSize: 31.5, lineHeight: "40px" }}>{n}</div>
        </React.Fragment>
      ))}
    </div>
  );
}
